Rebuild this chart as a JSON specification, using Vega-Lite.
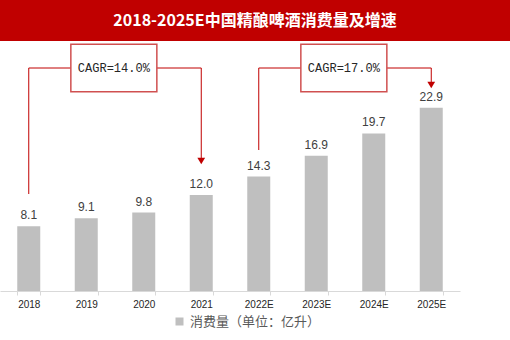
{
  "$schema": "https://vega.github.io/schema/vega-lite/v6.json",
  "padding": 0,
  "spacing": 0,
  "background": "white",
  "config": {"view": {"stroke": null}, "concat": {"spacing": 0}},
  "datasets": {
    "bars": [
      {"year": "2018", "v": 8.1},
      {"year": "2019", "v": 9.1},
      {"year": "2020", "v": 9.8},
      {"year": "2021", "v": 12.0},
      {"year": "2022E", "v": 14.3},
      {"year": "2023E", "v": 16.9},
      {"year": "2024E", "v": 19.7},
      {"year": "2025E", "v": 22.9}
    ],
    "lines": [
      {"g": "a", "o": 1, "year": "2018", "y": 12.125},
      {"g": "a", "o": 2, "year": "2018", "y": 27.875},
      {"g": "a", "o": 3, "year": "2021", "y": 27.875},
      {"g": "a", "o": 4, "year": "2021", "y": 16.6},
      {"g": "b", "o": 1, "year": "2022E", "y": 17.625},
      {"g": "b", "o": 2, "year": "2022E", "y": 27.875},
      {"g": "b", "o": 3, "year": "2025E", "y": 27.875},
      {"g": "b", "o": 4, "year": "2025E", "y": 26.1}
    ],
    "arrows": [
      {"year": "2021", "y": 16.25},
      {"year": "2025E", "y": 25.75}
    ],
    "boxes": [
      {"year": "2019", "y": 27.875, "label": "CAGR=14.0%"},
      {"year": "2023E", "y": 27.875, "label": "CAGR=17.0%"}
    ],
    "title": [{"t": "2018-2025E中国精酿啤酒消费量及增速"}]
  },
  "vconcat": [
    {
      "width": 510,
      "height": 41,
      "view": {"fill": "#C00000", "stroke": null},
      "data": {"name": "title"},
      "mark": {"type": "text", "font": "Noto Sans CJK SC", "fontWeight": "bold", "fontSize": 16, "fill": "white", "align": "center", "baseline": "middle"},
      "encoding": {"text": {"field": "t"}}
    },
    {
      "width": 460,
      "height": 249,
      "layer": [
        {
          "data": {"name": "bars"},
          "mark": {"type": "bar"},
          "encoding": {
            "x": {"field": "year", "type": "ordinal", "sort": null,
              "scale": {"paddingInner": 0.6, "paddingOuter": 0.3},
              "axis": {"title": null, "labelAngle": 0, "domainColor": "#D9D9D9", "tickColor": "#D9D9D9", "tickBand": "extent", "tickSize": 4, "labelFontSize": 10, "labelColor": "#262626", "labelFont": "Liberation Sans", "labelPadding": 4}},
            "y": {"field": "v", "type": "quantitative", "scale": {"domain": [0, 31.125], "nice": false}, "axis": null},
            "color": {"datum": "消费量（单位：亿升）", "type": "nominal", "scale": {"range": ["#BFBFBF"]},
              "legend": {"title": null, "orient": "none", "legendX": 173, "legendY": 315, "padding": 0, "symbolType": "square", "symbolSize": 64, "labelFont": "Noto Sans CJK SC", "labelFontSize": 13, "labelColor": "#595959", "symbolStrokeWidth": 0}}
          }
        },
        {
          "data": {"name": "bars"},
          "mark": {"type": "text", "baseline": "bottom", "dy": -4, "font": "Liberation Sans", "fontSize": 12, "fill": "#404040"},
          "encoding": {
            "x": {"field": "year", "type": "ordinal", "sort": null},
            "y": {"field": "v", "type": "quantitative"},
            "text": {"field": "v", "type": "quantitative", "format": ".1f"}
          }
        },
        {
          "data": {"name": "lines"},
          "mark": {"type": "line", "stroke": "#C00000", "strokeWidth": 1},
          "encoding": {
            "x": {"field": "year", "type": "ordinal", "sort": null},
            "y": {"field": "y", "type": "quantitative"},
            "detail": {"field": "g"},
            "order": {"field": "o"}
          }
        },
        {
          "data": {"name": "arrows"},
          "mark": {"type": "point", "shape": "triangle-down", "filled": true, "fill": "#C00000", "size": 60, "opacity": 1},
          "encoding": {
            "x": {"field": "year", "type": "ordinal", "sort": null},
            "y": {"field": "y", "type": "quantitative"}
          }
        },
        {
          "data": {"name": "boxes"},
          "mark": {"type": "point", "shape": "M-1,-0.55L1,-0.55L1,0.55L-1,0.55Z", "size": 7396, "filled": true, "fill": "white", "stroke": "#D05050", "strokeWidth": 1.5, "opacity": 1},
          "encoding": {
            "x": {"field": "year", "type": "ordinal", "sort": null, "bandPosition": 1.7},
            "y": {"field": "y", "type": "quantitative"}
          }
        },
        {
          "data": {"name": "boxes"},
          "mark": {"type": "text", "font": "Liberation Mono", "fontSize": 12, "fill": "#262626", "baseline": "middle", "align": "center"},
          "encoding": {
            "x": {"field": "year", "type": "ordinal", "sort": null, "bandPosition": 1.7},
            "y": {"field": "y", "type": "quantitative"},
            "text": {"field": "label"}
          }
        }
      ]
    }
  ]
}
